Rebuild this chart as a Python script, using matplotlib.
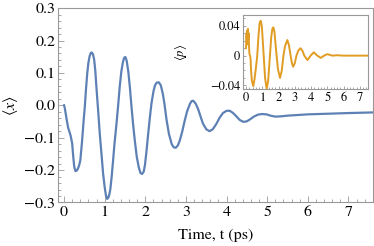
import matplotlib
matplotlib.use("Agg")
import matplotlib.pyplot as plt
from matplotlib.ticker import MultipleLocator

plt.rcParams['font.family'] = ['STIXGeneral', 'DejaVu Serif']
plt.rcParams['mathtext.fontset'] = 'stix'

# main curve <x>(t)
t_x = [0.0, 0.02, 0.06, 0.10, 0.16, 0.20, 0.22, 0.25, 0.28, 0.31, 0.34, 0.37, 0.40, 0.44,
       0.48, 0.51, 0.54, 0.57, 0.60, 0.63, 0.66, 0.68, 0.71, 0.74, 0.77, 0.79, 0.82, 0.85,
       0.88, 0.92, 0.96, 1.00, 1.03, 1.06, 1.09, 1.12, 1.14, 1.17, 1.20, 1.24, 1.29, 1.33,
       1.37, 1.41, 1.45, 1.48, 1.51, 1.54, 1.58, 1.62, 1.66, 1.70, 1.74, 1.79, 1.84, 1.88,
       1.92, 1.96, 1.99, 2.03, 2.07, 2.11, 2.15, 2.20, 2.24, 2.28, 2.33, 2.38, 2.43, 2.47,
       2.52, 2.58, 2.65, 2.70, 2.75, 2.80, 2.85, 2.91, 2.97, 3.03, 3.10, 3.14, 3.18, 3.24,
       3.30, 3.36, 3.42, 3.50, 3.58, 3.66, 3.75, 3.83, 3.91, 4.00, 4.08, 4.16, 4.24, 4.32,
       4.41, 4.49, 4.57, 4.67, 4.77, 4.87, 4.98, 5.08, 5.20, 5.35, 5.50, 5.75, 6.00, 6.50,
       7.00, 7.60]
x_vals = [0.0, -0.01, -0.041, -0.069, -0.093, -0.118, -0.15, -0.19, -0.203, -0.202, -0.196, -0.186, -0.17, -0.115,
          -0.05, -0.005, 0.05, 0.098, 0.132, 0.152, 0.162, 0.163, 0.158, 0.142, 0.105, 0.067, 0.015, -0.036,
          -0.09, -0.149, -0.21, -0.253, -0.278, -0.289, -0.285, -0.272, -0.258, -0.222, -0.18, -0.12, -0.057, -0.002,
          0.058, 0.105, 0.134, 0.147, 0.149, 0.138, 0.105, 0.055, -0.005, -0.06, -0.108, -0.16, -0.192, -0.209,
          -0.212, -0.205, -0.185, -0.14, -0.088, -0.04, 0.005, 0.043, 0.062, 0.07, 0.071, 0.062, 0.036, 0.005,
          -0.043, -0.088, -0.12, -0.13, -0.131, -0.124, -0.108, -0.08, -0.047, -0.018, 0.005, 0.013, 0.014, 0.005,
          -0.012, -0.035, -0.057, -0.074, -0.08, -0.074, -0.057, -0.038, -0.024, -0.017, -0.017, -0.024, -0.034, -0.045,
          -0.051, -0.050, -0.044, -0.035, -0.029, -0.027, -0.028, -0.032, -0.035, -0.034, -0.032, -0.03, -0.028, -0.026,
          -0.024, -0.022]

# inset curve <p>(t)
t_p = [0.0, 0.03, 0.06, 0.08, 0.10, 0.12, 0.14, 0.16, 0.18, 0.21, 0.25, 0.28, 0.31, 0.36, 0.45,
       0.52, 0.60, 0.69, 0.76, 0.83, 0.90, 0.97, 1.03, 1.10, 1.17, 1.27, 1.36, 1.47, 1.55, 1.62,
       1.68, 1.75, 1.82, 1.88, 1.96, 2.09, 2.20, 2.30, 2.40, 2.54, 2.64, 2.74, 2.82, 2.90, 3.00,
       3.10, 3.22, 3.35, 3.48, 3.58, 3.78, 3.97, 4.17, 4.38, 4.60, 4.80, 5.00, 5.30, 5.60, 6.00,
       6.50, 7.00, 7.50]
p_vals = [0.01, 0.03, 0.015, 0.034, 0.02, 0.036, 0.022, 0.03, 0.015, 0.002, 0.0, -0.005, -0.02, -0.034, -0.041,
          -0.032, -0.018, 0.0, 0.025, 0.043, 0.047, 0.04, 0.02, -0.005, -0.03, -0.045, -0.034, 0.0, 0.025, 0.036,
          0.038, 0.032, 0.014, 0.0, -0.018, -0.03, -0.02, 0.0, 0.013, 0.021, 0.014, 0.0, -0.01, -0.015, -0.01,
          0.0, 0.007, 0.010, 0.006, 0.0, -0.006, 0.0, 0.0045, 0.0, -0.003, 0.0, 0.002, 0.0, 0.0005, 0.0,
          0.0, 0.0, 0.0]

main_yticks = [-0.3, -0.2, -0.1, 0.0, 0.1, 0.2, 0.3]
inset_yticks = [-0.04, 0.0, 0.04]
inset_ylabels = ['\u22120.04', '0', '0.04']

blue = '#5e81b5'
orange = '#e19c24'
frame = '#999999'

fig = plt.figure(figsize=(3.74, 2.46), dpi=100)
ax = fig.add_axes([0.155, 0.177, 0.842, 0.79])
ax.plot(t_x, x_vals, color=blue, lw=1.6)
ax.set_xlim(-0.15, 7.6)
ax.set_ylim(-0.3, 0.3)
ax.set_yticks(main_yticks)
ax.set_yticklabels(['%.1f' % v if v >= 0 else '\u2212%.1f' % -v for v in main_yticks])
ax.xaxis.set_major_locator(MultipleLocator(1))
ax.xaxis.set_minor_locator(MultipleLocator(0.2))
ax.yaxis.set_minor_locator(MultipleLocator(0.02))
ax.set_xlabel('Time, t (ps)', fontsize=11.5, labelpad=7)
ax.set_ylabel(r'$\langle x\rangle$', fontsize=11.5, labelpad=3)

axi = fig.add_axes([0.65, 0.638, 0.334, 0.301])
axi.plot(t_p, p_vals, color=orange, lw=1.4)
axi.set_xlim(-0.18, 7.5)
axi.set_ylim(-0.045, 0.0547)
axi.set_yticks(inset_yticks)
axi.set_yticklabels(inset_ylabels)
axi.xaxis.set_major_locator(MultipleLocator(1))
axi.xaxis.set_minor_locator(MultipleLocator(0.2))
axi.yaxis.set_minor_locator(MultipleLocator(0.01))
axi.set_ylabel(r'$\langle p\rangle$', fontsize=9, labelpad=15)

for a, fs, maj, mnr in [(ax, 11.5, 4, 2), (axi, 9, 2.5, 1.3)]:
    for s in a.spines.values():
        s.set_color(frame)
        s.set_linewidth(0.8)
    a.tick_params(which='both', direction='in', color=frame, width=0.6,
                  top=False, right=False, labelsize=fs, pad=2)
    a.tick_params(which='major', length=maj)
    a.tick_params(which='minor', length=mnr)

fig.savefig('out.png', dpi=100)
